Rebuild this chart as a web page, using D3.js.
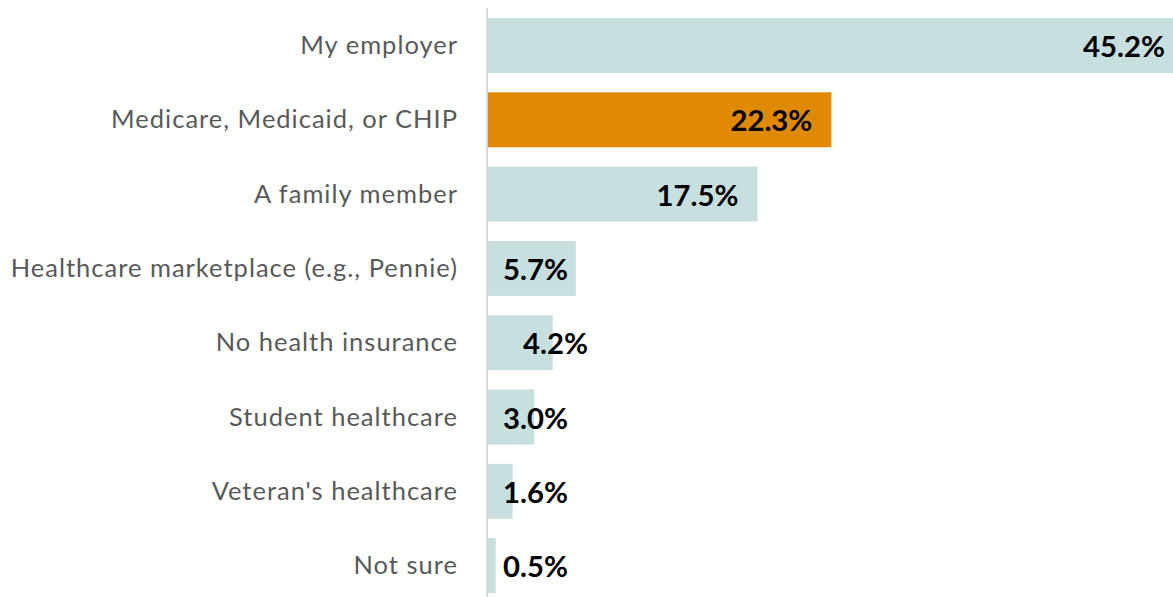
<!DOCTYPE html>
<html><head><meta charset="utf-8">
<script src="https://cdn.jsdelivr.net/npm/d3@7"></script>
<style>body{margin:0;background:#fff}svg{display:block}</style>
</head><body>
<script>
const categories = ["My employer","Medicare, Medicaid, or CHIP","A family member","Healthcare marketplace (e.g., Pennie)","No health insurance","Student healthcare","Veteran's healthcare","Not sure"];
const values = [45.2,22.3,17.5,5.7,4.2,3.0,1.6,0.5];
const highlight = ["Medicare, Medicaid, or CHIP"];

const W = 1173, H = 597;
const svg = d3.select("body").append("svg").attr("width", W).attr("height", H);
const x = d3.scaleLinear().domain([0, 45.2]).range([488, 1184]);
const y = d3.scaleBand().domain(categories).range([8.35, 602.75]).paddingInner(0.26).paddingOuter(0.13);

svg.append("g").selectAll("rect").data(categories).join("rect")
  .attr("x", x(0)).attr("y", d => y(d)).attr("height", y.bandwidth())
  .attr("width", (d,i) => x(values[i]) - x(0))
  .attr("fill", d => highlight.includes(d) ? "#df8905" : "#c8dfe0");

svg.append("line").attr("x1", 487).attr("x2", 487).attr("y1", 8).attr("y2", H)
  .attr("stroke", "#d9d9d9").attr("stroke-width", 2);

svg.append("g").selectAll("text").data(categories).join("text")
  .attr("x", 458).attr("y", d => y(d) + y.bandwidth()/2 - 1.5)
  .attr("text-anchor", "end").attr("dominant-baseline", "central")
  .attr("font-family", "Lato").attr("font-size", 25.5).attr("letter-spacing", 1).attr("fill", "#595959")
  .text(d => d);

const nudge = {"No health insurance": 20};
const labels = svg.append("g").selectAll("text").data(categories).join("text")
  .attr("y", d => y(d) + y.bandwidth()/2)
  .attr("dominant-baseline", "central")
  .attr("font-family", "Lato").attr("font-weight", "bold").attr("font-size", 29.3).attr("fill", "#000")
  .text((d,i) => values[i].toFixed(1) + "%");
labels.each(function(d,i){
  const w = this.getComputedTextLength();
  const left = Math.max(503, x(values[i]) - 19 - w) + (nudge[d] || 0);
  d3.select(this).attr("x", left);
});
</script>
</body></html>
